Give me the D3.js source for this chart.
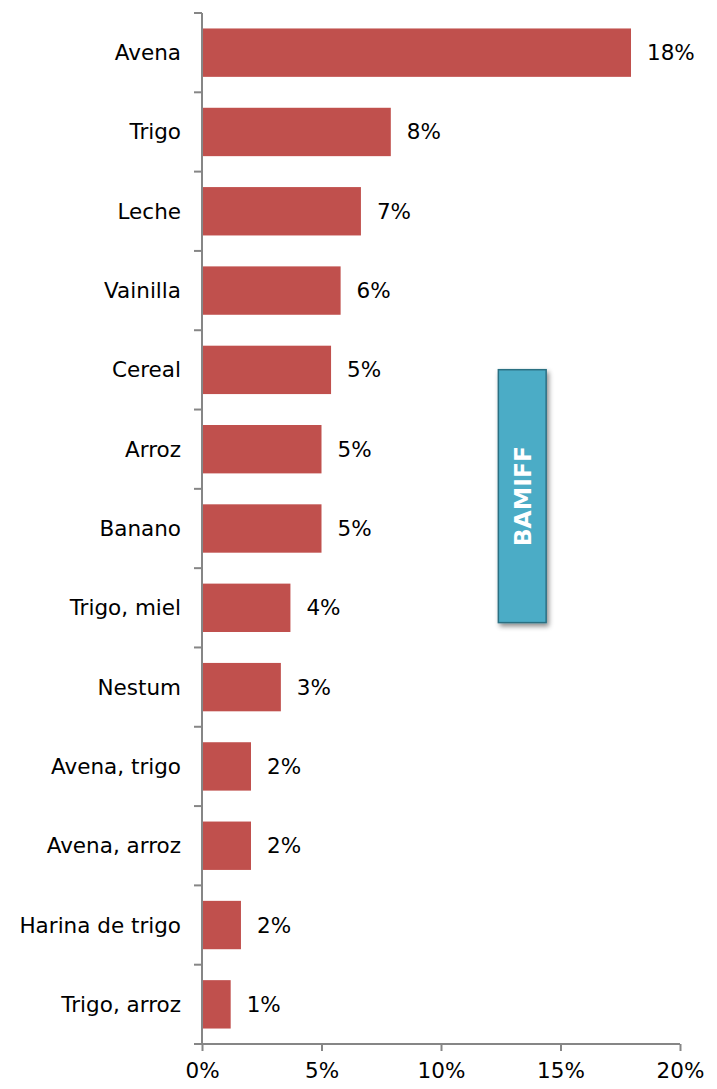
<!DOCTYPE html>
<html>
<head>
<meta charset="utf-8">
<script src="https://cdn.jsdelivr.net/npm/d3@7"></script>
<style>
  html, body { margin: 0; padding: 0; background: #fff; }
  svg text { font-family: "DejaVu Sans", Verdana, sans-serif; fill: #000; }
</style>
</head>
<body>
<svg id="chart" width="717" height="1089"></svg>
<script>
// Share of each ingredient / flavour, in percent
const categories = ["Avena", "Trigo", "Leche", "Vainilla", "Cereal", "Arroz", "Banano",
  "Trigo, miel", "Nestum", "Avena, trigo", "Avena, arroz", "Harina de trigo", "Trigo, arroz"];
const values = [17.95, 7.9, 6.65, 5.8, 5.4, 5.0, 5.0, 3.7, 3.3, 2.05, 2.05, 1.63, 1.2];
const xTicks = [0, 5, 10, 15, 20];
const boxLabel = "BAMIFF";

const data = categories.map((c, i) => ({ cat: c, val: values[i] }));

const svg = d3.select("#chart");
const margin = { top: 13, right: 37, bottom: 45, left: 202 };
const W = 717, H = 1089;
const fontSize = 21.5;

const x = d3.scaleLinear().domain([0, 20]).range([margin.left, W - margin.right]);
const y = d3.scaleBand().domain(categories).range([margin.top, H - margin.bottom]).paddingInner(0.39).paddingOuter(0.195);

const axisColor = "#868686";

// Bars
svg.append("g").selectAll("rect").data(data).join("rect")
  .attr("x", x(0))
  .attr("y", d => y(d.cat))
  .attr("width", d => x(d.val) - x(0))
  .attr("height", y.bandwidth())
  .attr("fill", "#c0504d");

// Value labels
const fmt = v => Math.round(v) + "%";
svg.append("g").selectAll("text").data(data).join("text")
  .attr("x", d => x(d.val) + 16)
  .attr("y", d => y(d.cat) + y.bandwidth() / 2)
  .attr("dy", "0.35em")
  .attr("font-size", fontSize)
  .text(d => fmt(d.val));

// Category axis: line with ticks at band boundaries
const yAxis = svg.append("g");
const bounds = d3.range(categories.length + 1).map(i => margin.top + i * ((H - margin.bottom - margin.top) / categories.length));
yAxis.append("line")
  .attr("x1", x(0)).attr("x2", x(0))
  .attr("y1", margin.top).attr("y2", H - margin.bottom)
  .attr("stroke", axisColor).attr("stroke-width", 2);
yAxis.selectAll("line.tick").data(bounds).join("line")
  .attr("class", "tick")
  .attr("x1", x(0) - 8).attr("x2", x(0))
  .attr("y1", d => d).attr("y2", d => d)
  .attr("stroke", axisColor).attr("stroke-width", 2);
yAxis.selectAll("text").data(categories).join("text")
  .attr("x", x(0) - 21)
  .attr("y", d => y(d) + y.bandwidth() / 2)
  .attr("dy", "0.35em")
  .attr("text-anchor", "end")
  .attr("font-size", fontSize)
  .text(d => d);

// Value axis
const xAxis = svg.append("g").attr("transform", `translate(0,${H - margin.bottom})`)
  .call(d3.axisBottom(x).tickValues(xTicks).tickSize(7).tickPadding(12).tickFormat(d => d + "%"));
xAxis.select(".domain").attr("stroke", axisColor).attr("stroke-width", 2)
  .attr("d", `M${x(0) - 8},0H${x(20)}`);
xAxis.selectAll(".tick line").attr("stroke", axisColor).attr("stroke-width", 2);
xAxis.selectAll(".tick text").attr("font-size", fontSize).attr("font-family", "DejaVu Sans, Verdana, sans-serif").attr("fill", "#000");

// Annotation box
const defs = svg.append("defs");
const f = defs.append("filter").attr("id", "shadow").attr("x", "-30%").attr("y", "-10%").attr("width", "170%").attr("height", "120%");
f.append("feDropShadow").attr("dx", 2).attr("dy", 3).attr("stdDeviation", 2.5).attr("flood-color", "#000").attr("flood-opacity", 0.45);

const bx0 = x(12.4), bx1 = x(14.4);
const by0 = y("Cereal") + 24, by1 = y("Trigo, miel") + 39;
svg.append("rect")
  .attr("x", bx0).attr("y", by0)
  .attr("width", bx1 - bx0).attr("height", by1 - by0)
  .attr("fill", "#4bacc6").attr("stroke", "#2c6f82").attr("stroke-width", 1.5)
  .attr("filter", "url(#shadow)");
svg.append("text")
  .attr("transform", `translate(${(bx0 + bx1) / 2},${(by0 + by1) / 2}) rotate(-90)`)
  .attr("text-anchor", "middle")
  .attr("dy", "0.36em")
  .attr("font-size", 23.5)
  .attr("font-weight", "bold")
  .style("fill", "#fff")
  .text(boxLabel);
</script>
</body>
</html>
